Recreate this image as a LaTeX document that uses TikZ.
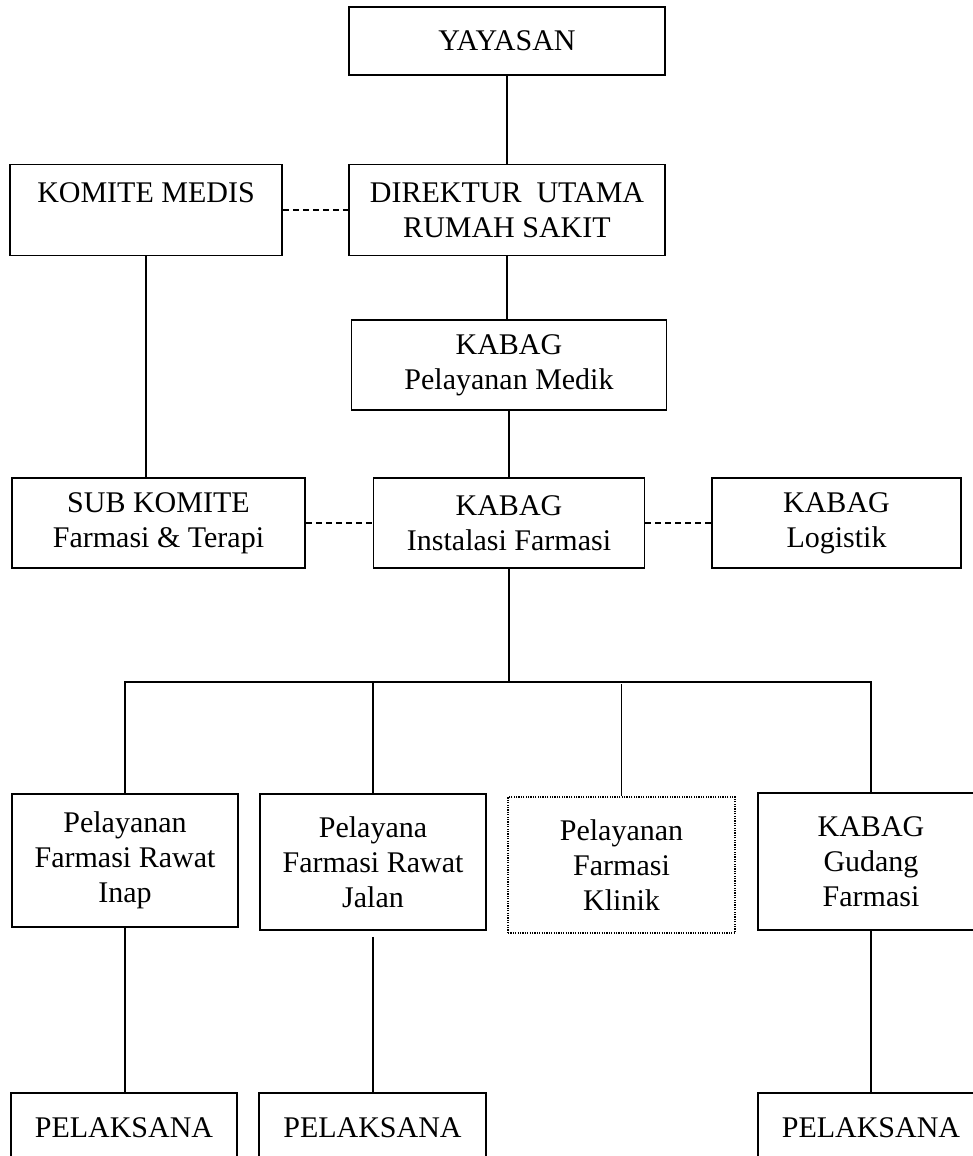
\documentclass[tikz,border=0pt]{standalone}
\usepackage{fontspec}
\setmainfont{Liberation Serif}
\usepackage{tikz}
\usetikzlibrary{positioning}

\begin{document}
\begin{tikzpicture}[
    x = 0.5pt, y = -0.5pt, % one unit per pixel of the chart
    line width = 0.7pt, % connector style
    ]

    \tikzset{
    box/.style = {
    draw = black,
    line width = 0.8pt,
    inner sep = 0pt,
    align = center,
    font = \fontsize{15}{17.5}\selectfont
    },
    dotbox/.style = {box, line width = 0.6pt, dash pattern = on 0.6pt off 0.6pt},
    link/.style = {dash pattern = on 3pt off 2pt}
    }
    \clip (0,0) rectangle (973,1156);

    \node[box,minimum width=158pt,minimum height=34pt] (yayasan) at (507,41) {YAYASAN};
    \node[box,minimum width=136pt,minimum height=45.5pt] (komite) at (146,210) {KOMITE MEDIS\\ ~};
    \node[box,minimum width=158pt,minimum height=45.5pt] (direktur) at (507,210) {DIREKTUR\ \ UTAMA\\RUMAH SAKIT};
    \node[box,minimum width=157.5pt,minimum height=45pt] (medik) at (509,365) {KABAG\\Pelayanan Medik};
    \node[box,minimum width=146.5pt,minimum height=45pt] (subkomite) at (158.5,523) {SUB KOMITE\\Farmasi \& Terapi};
    \node[box,minimum width=135.5pt,minimum height=45pt] (instalasi) at (509,523) {KABAG\\Instalasi Farmasi};
    \node[box,minimum width=124.5pt,minimum height=45pt] (logistik) at (836.5,523) {KABAG\\Logistik};

    \node[box,minimum width=113pt,minimum height=66.5pt] (inap) at (125,860.5) {Pelayanan\\Farmasi Rawat\\Inap};
    \node[box,minimum width=113pt,minimum height=68pt] (jalan) at (373,862) {Pelayana\\Farmasi Rawat\\Jalan};
    \node[dotbox,minimum width=113.5pt,minimum height=68pt] (klinik) at (621.5,865) {Pelayanan\\Farmasi\\Klinik};
    \node[box,minimum width=113pt,minimum height=68.5pt] (gudang) at (871,861.5) {KABAG\\Gudang\\Farmasi};

    \node[box,minimum width=113pt,minimum height=35pt] (pelinap) at (124,1128) {PELAKSANA};
    \node[box,minimum width=113.5pt,minimum height=35pt] (peljalan) at (372.5,1128) {PELAKSANA};
    \node[box,minimum width=113pt,minimum height=35pt] (pelgudang) at (871,1128) {PELAKSANA};

    \coordinate (bus) at (509,682);

    \draw (yayasan) -- (direktur);
    \draw[link] (komite) -- (direktur);
    \draw (direktur.south) -- (direktur.south |- medik.north);
    \draw (komite.south) -- (komite.south |- subkomite.north);
    \draw (medik) -- (instalasi);
    \draw[link] (subkomite) -- (instalasi);
    \draw[link] (instalasi) -- (logistik);
    \draw (instalasi.south) -- (bus);
    \draw (inap.north) -- (inap.north |- bus) -- (gudang.north |- bus) -- (gudang.north);
    \draw (jalan.north) -- (jalan.north |- bus);
    \draw (klinik.north) -- ([yshift=-1pt]klinik.north |- bus);
    \draw (inap.south) -- (inap.south |- pelinap.north);
    \draw ([yshift=-3pt]jalan.south) -- (jalan.south |- peljalan.north);
    \draw (gudang.south) -- (gudang.south |- pelgudang.north);
\end{tikzpicture}
\end{document}
